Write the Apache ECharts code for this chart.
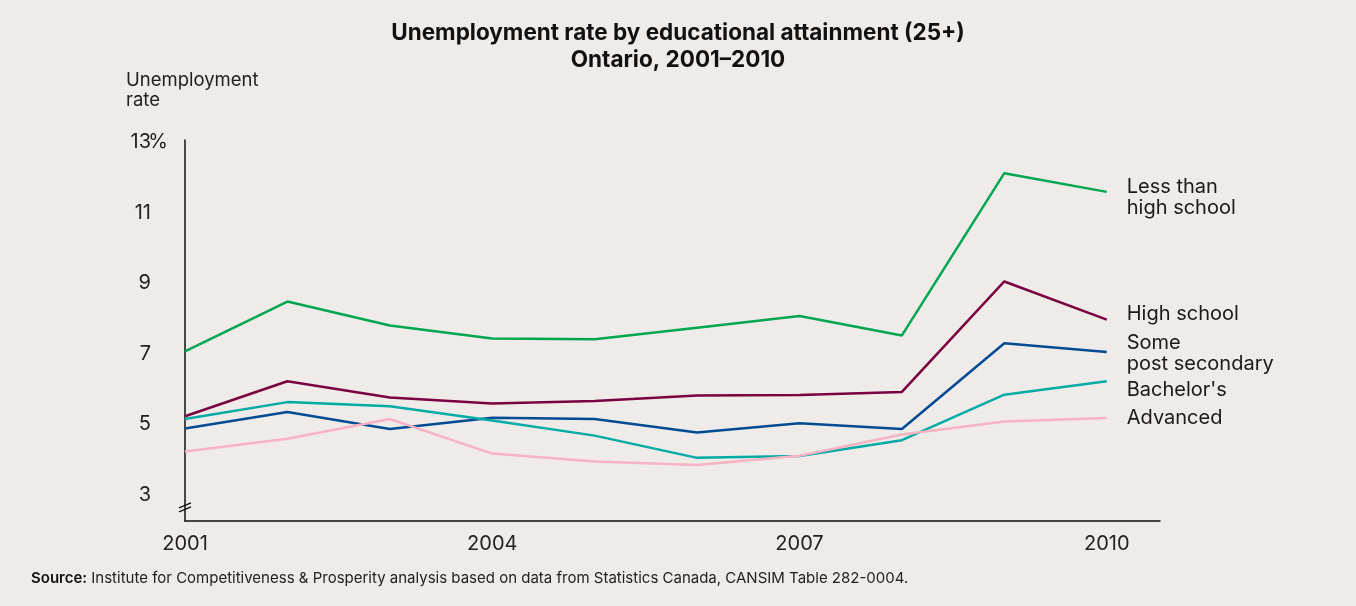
<!DOCTYPE html>
<html>
<head>
<meta charset="utf-8">
<script src="https://cdn.jsdelivr.net/npm/echarts@6/dist/echarts.min.js"></script>
<style>
  html, body { margin: 0; padding: 0; background: #eeebe8; }
  #chart { width: 1356px; height: 606px; }
</style>
</head>
<body>
<div id="chart"></div>
<script>
  const years = [2001, 2002, 2003, 2004, 2005, 2006, 2007, 2008, 2009, 2010];
  const yearTicks = [2001, 2004, 2007, 2010];
  const rateTicks = [3, 5, 7, 9, 11, 13];

  const lessThanHighSchool = [7.01, 8.42, 7.74, 7.37, 7.35, 7.68, 8.01, 7.46, 12.06, 11.53];
  const highSchool = [5.17, 6.16, 5.70, 5.53, 5.60, 5.76, 5.77, 5.86, 8.99, 7.91];
  const somePostSecondary = [4.82, 5.29, 4.81, 5.13, 5.09, 4.71, 4.97, 4.81, 7.24, 6.99];
  const bachelors = [5.09, 5.57, 5.45, 5.05, 4.62, 3.99, 4.04, 4.49, 5.78, 6.16];
  const advanced = [4.17, 4.53, 5.09, 4.11, 3.89, 3.79, 4.05, 4.65, 5.02, 5.12];

  const font = 'Inter, "Noto Sans", sans-serif';
  const myChart = echarts.init(document.getElementById('chart'));

  // 每条线的配置：名称、颜色、右侧标签的垂直偏移
  const lines = [
    { name: 'Less than\nhigh school', data: lessThanHighSchool, color: '#00a650', dy: 6 },
    { name: 'High school', data: highSchool, color: '#7a0040', dy: -6 },
    { name: 'Some\npost secondary', data: somePostSecondary, color: '#004b93', dy: 1 },
    { name: "Bachelor's", data: bachelors, color: '#00aba6', dy: 9 },
    { name: 'Advanced', data: advanced, color: '#f7b3c2', dy: 0 }
  ];

  const seriesData = lines.map((item) => ({
    name: item.name,
    type: 'line',
    symbol: 'none',
    lineStyle: { color: item.color, width: 2.5 },
    itemStyle: { color: item.color },
    endLabel: {
      show: true,
      formatter: '{a}',
      color: '#1a1a1a',
      fontFamily: font,
      fontSize: 20,
      lineHeight: 21,
      distance: 20,
      offset: [0, item.dy]
    },
    data: years.map((y, i) => [y, item.data[i]])
  }));

  myChart.setOption({
    animation: false,
    backgroundColor: '#eeebe8',
    title: [
      {
        text: 'Unemployment rate by educational attainment (25+)\nOntario, 2001–2010',
        left: 'center',
        top: 20,
        padding: 0,
        textStyle: { fontFamily: font, fontSize: 22.5, fontWeight: 'bold', color: '#111', lineHeight: 27 }
      },
      {
        text: '{b|Source:} Institute for Competitiveness & Prosperity analysis based on data from Statistics Canada, CANSIM Table 282-0004.',
        left: 31,
        top: 571,
        padding: 0,
        textStyle: {
          fontFamily: font, fontSize: 15, fontWeight: 'normal', color: '#222',
          rich: { b: { fontFamily: font, fontSize: 15, fontWeight: 600, color: '#111' } }
        }
      }
    ],
    grid: { left: 185, top: 140, right: 196, bottom: 85 },
    xAxis: {
      type: 'value',
      min: 2001,
      max: 2010.52,
      axisLine: { show: true, lineStyle: { color: '#111', width: 1.5 } },
      axisTick: { show: false },
      splitLine: { show: false },
      axisLabel: {
        customValues: yearTicks,
        formatter: (v) => String(v),
        color: '#222',
        fontFamily: font,
        fontSize: 20,
        margin: 13
      }
    },
    yAxis: {
      type: 'value',
      min: 2.2,
      max: 13,
      name: 'Unemployment\nrate',
      nameLocation: 'end',
      nameGap: 30,
      nameTextStyle: { fontFamily: font, fontSize: 18.5, color: '#222', align: 'left', lineHeight: 20, padding: [0, 0, 0, -59] },
      axisLine: { show: true, lineStyle: { color: '#111', width: 1.5 } },
      axisTick: { show: false },
      splitLine: { show: false },
      axisLabel: {
        customValues: rateTicks,
        margin: 17,
        padding: [4, 0, 0, 0],
        formatter: (v) => v === 13 ? '{n|13}{p|%}' : '{n|' + v + '}{s|}',
        rich: {
          n: { fontFamily: font, fontSize: 20, color: '#222' },
          p: { fontFamily: font, fontSize: 20, color: '#222', width: 17 },
          s: { width: 17 }
        }
      }
    },
    series: seriesData
  });

  // 纵轴断裂标记
  const brk = myChart.convertToPixel({ gridIndex: 0 }, [2001, 2.6]);
  myChart.setOption({
    graphic: [
      {
        type: 'group',
        x: brk[0],
        y: brk[1],
        children: [
          { type: 'line', shape: { x1: -6, y1: 1, x2: 6, y2: -4 }, style: { stroke: '#111', lineWidth: 1.2 } },
          { type: 'line', shape: { x1: -6, y1: 5, x2: 6, y2: 0 }, style: { stroke: '#111', lineWidth: 1.2 } }
        ]
      }
    ]
  });

  window.addEventListener('resize', () => {
    myChart && myChart.resize();
  });
</script>
</body>
</html>
